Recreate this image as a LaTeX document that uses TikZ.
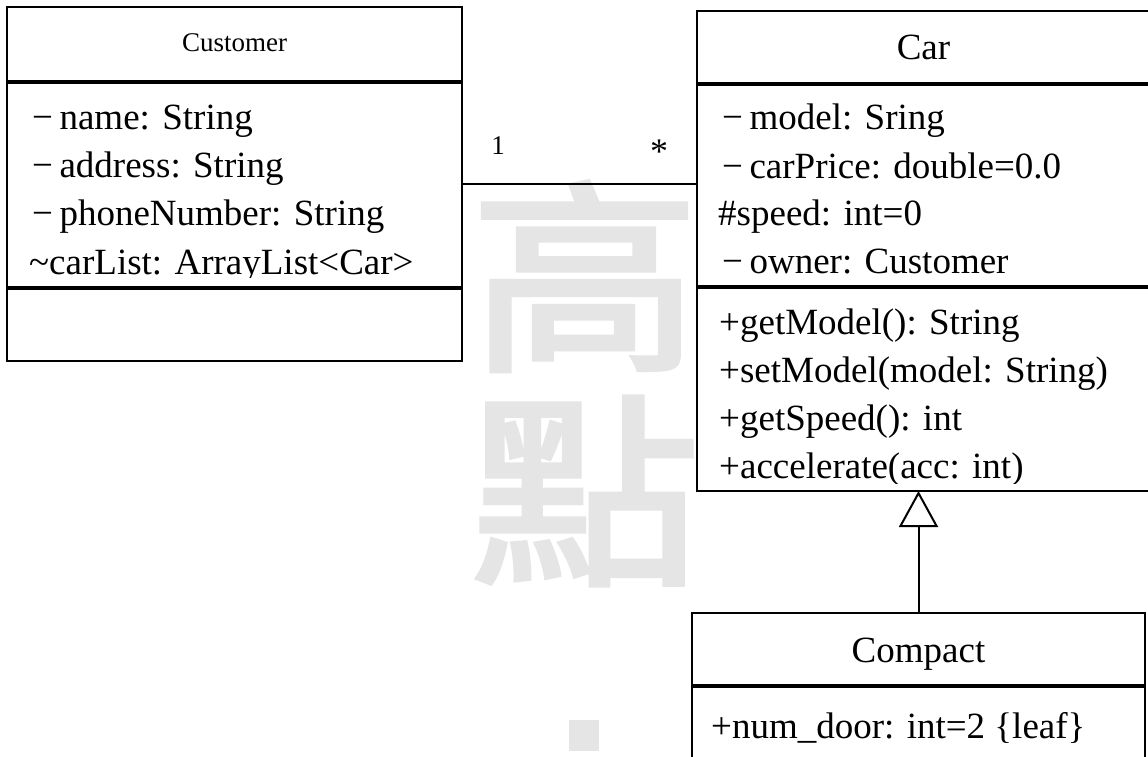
\documentclass[tikz,border=0pt]{standalone}
\usepackage{fontspec}
\setmainfont{Liberation Serif}
\newfontfamily\cjk[FakeBold=2.5]{Noto Sans CJK TC}
\usetikzlibrary{arrows.meta}
\definecolor{wmgray}{RGB}{229,229,229}
\begin{document}
\begin{tikzpicture}[x=1pt,y=-1pt,
  box/.style={draw, line width=2.3pt, fill=white, inner sep=0pt, outer sep=0pt, anchor=north west},
  divider/.style={line width=3.5pt},
  attr/.style={anchor=base west, inner sep=0pt, font=\fontsize{37}{40}\selectfont},
  classtitle/.style={anchor=base, inner sep=0pt, font=\fontsize{37}{40}\selectfont},
  smalltitle/.style={anchor=base, inner sep=0pt, font=\fontsize{27}{30}\selectfont},
  mult/.style={anchor=base, inner sep=0pt, font=\fontsize{27}{30}\selectfont},
  wm/.style={anchor=base, inner sep=0pt, text=wmgray, font=\cjk\fontsize{205}{205}\selectfont},
  wmdot/.style={fill=wmgray, inner sep=0pt, minimum width=30pt, minimum height=31pt},
  conn/.style={line width=2pt},
]
\useasboundingbox (0,0) rectangle (1148,756);
\fill[white] (0,0) rectangle (1148,756);

% watermark
\node[wm] (wm1) at (585,354.7) {\scalebox{1.12}[1]{高}};
\node[wm] (wm2) at (585,568.8) {\scalebox{1.12}[1]{點}};
\node[wmdot] (wm3) at (584,735.5) {};

% Customer class
\node[box, minimum width=455pt, minimum height=354pt] (cust) at (7,7) {};
\draw[divider] (7,82) -- (462,82);
\draw[divider] (7,288) -- (462,288);
\node[smalltitle] (custT) at (234.5,51) {Customer};
\begin{scope}
\clip (7,84) rectangle (462,277);
\node[attr] (ca1) at (32,129) {−\hspace{6.5pt}name: String};
\node[attr] (ca2) at (32,177) {−\hspace{6.5pt}address: String};
\node[attr] (ca3) at (32,225) {−\hspace{6.5pt}phoneNumber: String};
\node[attr] (ca4) at (29,274) {\char`\~carList: ArrayList<Car>};
\end{scope}

% Car class
\node[box, minimum width=453pt, minimum height=480pt] (car) at (697,11) {};
\draw[divider] (697,84) -- (1150,84);
\draw[divider] (697,287) -- (1150,287);
\node[classtitle] (carT) at (923.5,59) {Car};
\node[attr] (cr1) at (722,129) {−\hspace{6.5pt}model: Sring};
\node[attr] (cr2) at (722,178) {−\hspace{6.5pt}carPrice: double=0.0};
\node[attr] (cr3) at (718,225) {\#speed: int=0};
\node[attr] (cr4) at (722,273) {−\hspace{6.5pt}owner: Customer};
\begin{scope}
\clip (697,289) rectangle (1150,483);
\node[attr] (cm1) at (719,334) {+getModel(): String};
\node[attr] (cm2) at (719,382) {+setModel(model: String)};
\node[attr] (cm3) at (719,430) {+getSpeed(): int};
\node[attr] (cm4) at (719,478) {+accelerate(acc: int)};
\end{scope}

% Compact class
\node[box, minimum width=453pt, minimum height=200pt] (compact) at (692,613) {};
\draw[divider] (692,686) -- (1145,686);
\node[classtitle] (compT) at (918.5,662) {Compact};
\node[attr] (cp1) at (711,738) {+num\_door: int=2 \{leaf\}};

% association
\draw[conn] (cust.east) -- (cust.east -| car.west);
\node[mult] (m1) at (498,154) {1};
\node[mult, font=\fontsize{36}{40}\selectfont] (m2) at (659,163) {*};

% generalization
\draw[conn, -{Triangle[open, width=39pt, length=36pt, line width=2pt]}] (compact.north) -- (compact.north |- car.south);
\end{tikzpicture}
\end{document}
